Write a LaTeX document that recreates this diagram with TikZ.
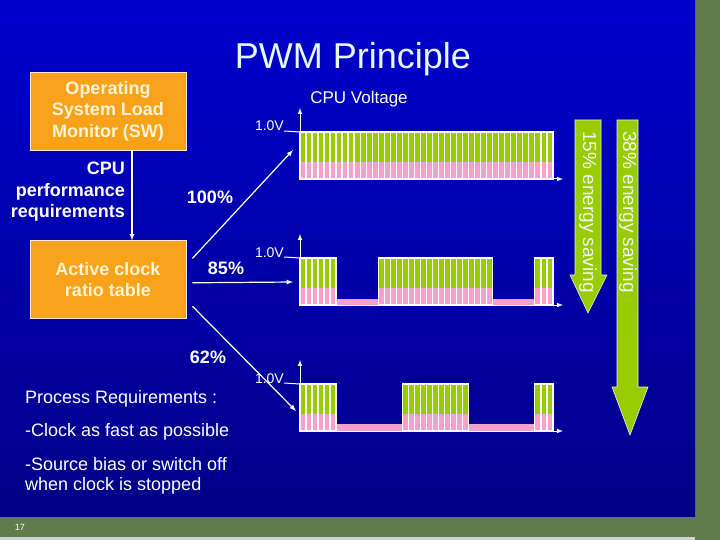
\documentclass[tikz,border=0pt]{standalone}
\usepackage{fontspec}
\setmainfont{Liberation Sans}
\usetikzlibrary{positioning, calc}

\definecolor{slideblue}{RGB}{0,0,205}
\definecolor{slidenavy}{RGB}{0,0,135}
\definecolor{boxorange}{RGB}{250,163,26}
\definecolor{boxtext}{RGB}{255,244,214}
\definecolor{pulsegreen}{RGB}{153,204,0}
\definecolor{pulsepink}{RGB}{248,160,205}
\definecolor{board}{RGB}{95,125,75}

\begin{document}
\begin{tikzpicture}[x=1pt, y=-1pt,
    loadbox/.style={draw=white!85!orange, line width=0.8pt, fill=boxorange, text=boxtext,
        font=\fontsize{18}{21.5}\selectfont\bfseries, align=center,
        minimum width=156pt, minimum height=78pt, inner sep=0pt},
    lbl/.style={text=white, font=\fontsize{18}{21.5}\selectfont\bfseries, inner sep=0pt},
    volt/.style={text=white, font=\fontsize{14}{16}\selectfont, inner sep=0pt},
    note/.style={text=white, font=\fontsize{18}{20}\selectfont, inner sep=0pt, anchor=west},
    wire/.style={draw=white, line width=1.2pt, ->, >=latex},
    axis/.style={draw=white, line width=1pt, ->, >=latex},
    saving/.style={fill=pulsegreen, draw=white!80!pulsegreen, line width=0.6pt},
    savetext/.style={text=white!92!gray, font=\fontsize{19}{22}\selectfont, rotate=-90, inner sep=0pt}]

\useasboundingbox (0,0) rectangle (720,540);
\fill[board] (0,0) rectangle (720,540);
\fill[gray!35] (0,537) rectangle (695,540);
\shade[top color=slideblue, bottom color=slidenavy] (0,0) rectangle (695,516);

\node (title) [text=white!90!cyan, font=\fontsize{36}{40}\selectfont] at (353,59) {PWM Principle};

\node (osmon) [loadbox] at (108,111) {Operating\\System Load\\Monitor (SW)};
\node (ratio) [loadbox, below=90pt of osmon] {Active clock\\ratio table};
\node (cpureq) [lbl, align=right, anchor=east] at (125,192) {CPU\\performance\\requirements};
\draw[wire] ($(osmon.south)+(24,0)$) -- ($(ratio.north)+(24,0)$);

\coordinate (out100) at ($(ratio.north east)+(6,18)$);
\coordinate (out85) at ($(ratio.east)+(6,3)$);
\coordinate (out62) at ($(ratio.south east)+(6,-13)$);
\coordinate (in100) at (293,150);
\coordinate (in85) at (293,282);
\coordinate (in62) at (296,411);
\draw[wire] (out100) -- (in100);
\draw[wire] (out85) -- (in85);
\draw[wire] (out62) -- (in62);
\node (pc100) [lbl] at (210,197) {100\%};
\node (pc85) [lbl] at (226,268) {85\%};
\node (pc62) [lbl] at (208,357) {62\%};

\node (cpuv) [text=white, font=\fontsize{17}{20}\selectfont] at (359,99) {CPU Voltage};

% 100%
\foreach \i in {0,...,41} {
    \fill[pulsegreen] (300+6.02*\i,132) rectangle ++(6.02,30);
    \fill[pulsepink] (300+6.02*\i,162) rectangle ++(6.02,17);
    \draw[white, line width=1.4pt] (300+6.02*\i,179) rectangle ++(6.02,-47);
}
\coordinate (o100) at (300,179);
\draw[axis] (o100) -- ++(0,-71);
\draw[axis] (o100) -- ++(263,0);
\node (v100) [volt, anchor=base east] at (284,131) {1.0V};
\draw[white, line width=1pt] (v100.base east) -- (300,132);

% 85%
\fill[pulsepink] (336.12,299) rectangle (378.26,306);
\fill[pulsepink] (492.64,299) rectangle (534.78,306);
\foreach \i in {0,...,5,13,14,...,31,39,40,41} {
    \fill[pulsegreen] (300+6.02*\i,258) rectangle ++(6.02,30);
    \fill[pulsepink] (300+6.02*\i,288) rectangle ++(6.02,17);
    \draw[white, line width=1.4pt] (300+6.02*\i,305) rectangle ++(6.02,-47);
}
\coordinate (o85) at (300,305);
\draw[axis] (o85) -- ++(0,-71);
\draw[axis] (o85) -- ++(263,0);
\node (v85) [volt, anchor=base east] at (284,257) {1.0V};
\draw[white, line width=1pt] (v85.base east) -- (300,258);

% 62%
\fill[pulsepink] (336.12,424) rectangle (402.34,431);
\fill[pulsepink] (468.56,424) rectangle (534.78,431);
\foreach \i in {0,...,5,17,18,...,27,39,40,41} {
    \fill[pulsegreen] (300+6.02*\i,384) rectangle ++(6.02,30);
    \fill[pulsepink] (300+6.02*\i,414) rectangle ++(6.02,17);
    \draw[white, line width=1.4pt] (300+6.02*\i,431) rectangle ++(6.02,-47);
}
\coordinate (o62) at (300,431);
\draw[axis] (o62) -- ++(0,-71);
\draw[axis] (o62) -- ++(263,0);
\node (v62) [volt, anchor=base east] at (284,383) {1.0V};
\draw[white, line width=1pt] (v62.base east) -- (300,384);

\draw[saving] (575,120) -- (601,120) -- (601,275) -- (607,275) -- (588,313) -- (570,275) -- (575,275) -- cycle;
\node (save15) [savetext] at (588,212) {15\% energy saving};
\draw[saving] (617,120) -- (638,120) -- (638,387) -- (648,387) -- (630,435) -- (612,387) -- (617,387) -- cycle;
\node (save38) [savetext] at (628,212) {38\% energy saving};

\node (procreq) [note] at (25,399) {Process Requirements :};
\node (fastclk) [note] at (25,432) {-Clock as fast as possible};
\node (srcbias) [note, align=left] at (25,476) {-Source bias or switch off\\when clock is stopped};

\node (pgnum) [text=white, font=\fontsize{9}{10}\selectfont] at (20,527) {17};
\end{tikzpicture}
\end{document}
